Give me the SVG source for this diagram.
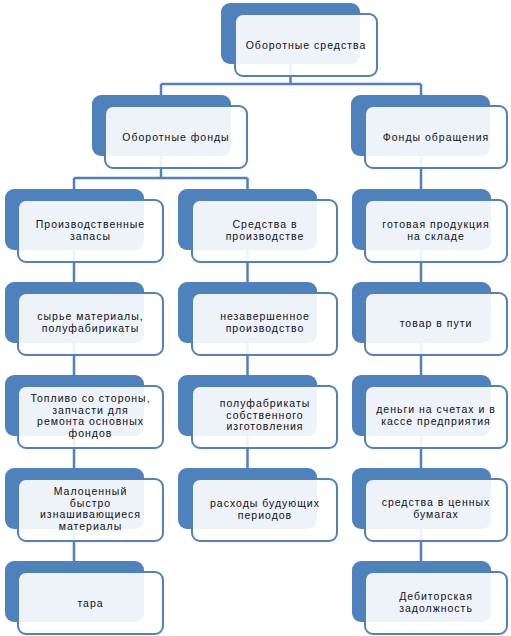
<svg xmlns="http://www.w3.org/2000/svg" width="511" height="636" viewBox="0 0 511 636">
<style>
.bk{fill:#4F81BD;}
.fr{fill:#ffffff;fill-opacity:0.9;stroke:#4F81BD;stroke-width:2;}
.cn{fill:none;stroke:#4F81BD;stroke-width:2.5;}
text{font-family:"Liberation Sans",Arial,sans-serif;font-size:10.5px;fill:#111;text-anchor:middle;letter-spacing:1px;}
</style>
<rect width="511" height="636" fill="#ffffff"/>
<g id="connectors">
<path class="cn" d="M290.5,64 V84 M161,84 H421 M161,84 V95 M421,84 V95"/>
<path class="cn" d="M161,155 V178 M74,178 H247.5 M74,178 V189 M247.5,178 V189"/>
<path class="cn" d="M421,155 V189"/>
<path class="cn" d="M74,250 V282 M74,343 V375 M74,436 V468 M74,529 V561"/>
<path class="cn" d="M247.5,250 V282 M247.5,343 V375 M247.5,436 V468"/>
<path class="cn" d="M421,250 V282 M421,343 V375 M421,436 V468 M421,529 V561"/>
</g>
<g id="n-top"><rect class="bk" x="221" y="3" width="139" height="61" rx="9"/><rect class="fr" x="235" y="14" width="142" height="62" rx="8"/><text x="306" y="48.5">Оборотные средства</text></g>
<g id="n-funds"><rect class="bk" x="92" y="95" width="139" height="61" rx="9"/><rect class="fr" x="105" y="106" width="142" height="62" rx="8"/><text x="176" y="140.5">Оборотные фонды</text></g>
<g id="n-circ"><rect class="bk" x="351" y="95" width="139" height="61" rx="9"/><rect class="fr" x="365" y="106" width="142" height="62" rx="8"/><text x="436" y="140.5">Фонды обращения</text></g>

<g id="c1r1"><rect class="bk" x="5" y="189" width="139" height="61" rx="9"/><rect class="fr" x="18" y="200" width="145" height="62" rx="8"/><text x="90.5" y="228">Производственные</text><text x="90.5" y="240">запасы</text></g>
<g id="c1r2"><rect class="bk" x="5" y="282" width="139" height="61" rx="9"/><rect class="fr" x="18" y="293" width="145" height="62" rx="8"/><text x="90.5" y="320">сырье материалы,</text><text x="90.5" y="332">полуфабирикаты</text></g>
<g id="c1r3"><rect class="bk" x="5" y="375" width="139" height="61" rx="9"/><rect class="fr" x="18" y="386" width="145" height="62" rx="8"/><text x="90.5" y="402">Топливо со стороны,</text><text x="90.5" y="413.5">запчасти для</text><text x="90.5" y="425">ремонта основных</text><text x="90.5" y="436.5">фондов</text></g>
<g id="c1r4"><rect class="bk" x="5" y="468" width="139" height="61" rx="9"/><rect class="fr" x="18" y="479" width="145" height="62" rx="8"/><text x="90.5" y="495">Малоценный</text><text x="90.5" y="506.5">быстро</text><text x="90.5" y="518">изнашивающиеся</text><text x="90.5" y="529.5">материалы</text></g>
<g id="c1r5"><rect class="bk" x="5" y="561" width="139" height="61" rx="9"/><rect class="fr" x="18" y="572" width="145" height="62" rx="8"/><text x="90.5" y="607">тара</text></g>

<g id="c2r1"><rect class="bk" x="178" y="189" width="139" height="61" rx="9"/><rect class="fr" x="192" y="200" width="145" height="62" rx="8"/><text x="265" y="228">Средства в</text><text x="265" y="240">производстве</text></g>
<g id="c2r2"><rect class="bk" x="178" y="282" width="139" height="61" rx="9"/><rect class="fr" x="192" y="293" width="145" height="62" rx="8"/><text x="265" y="320">незавершенное</text><text x="265" y="332">производство</text></g>
<g id="c2r3"><rect class="bk" x="178" y="375" width="139" height="61" rx="9"/><rect class="fr" x="192" y="386" width="145" height="62" rx="8"/><text x="265" y="407">полуфабрикаты</text><text x="265" y="418.5">собственного</text><text x="265" y="430">изготовления</text></g>
<g id="c2r4"><rect class="bk" x="178" y="468" width="139" height="61" rx="9"/><rect class="fr" x="192" y="479" width="145" height="62" rx="8"/><text x="265" y="507">расходы будующих</text><text x="265" y="519">периодов</text></g>

<g id="c3r1"><rect class="bk" x="352" y="189" width="139" height="61" rx="9"/><rect class="fr" x="365" y="200" width="142" height="62" rx="8"/><text x="436" y="228">готовая продукция</text><text x="436" y="240">на складе</text></g>
<g id="c3r2"><rect class="bk" x="352" y="282" width="139" height="61" rx="9"/><rect class="fr" x="365" y="293" width="142" height="62" rx="8"/><text x="436" y="327">товар в пути</text></g>
<g id="c3r3"><rect class="bk" x="352" y="375" width="139" height="61" rx="9"/><rect class="fr" x="365" y="386" width="142" height="62" rx="8"/><text x="436" y="413">деньги на счетах и в</text><text x="436" y="425">кассе предприятия</text></g>
<g id="c3r4"><rect class="bk" x="352" y="468" width="139" height="61" rx="9"/><rect class="fr" x="365" y="479" width="142" height="62" rx="8"/><text x="436" y="506">средства в ценных</text><text x="436" y="518">бумагах</text></g>
<g id="c3r5"><rect class="bk" x="352" y="561" width="139" height="61" rx="9"/><rect class="fr" x="365" y="572" width="142" height="62" rx="8"/><text x="436" y="600">Дебиторская</text><text x="436" y="612">задолжность</text></g>
</svg>
